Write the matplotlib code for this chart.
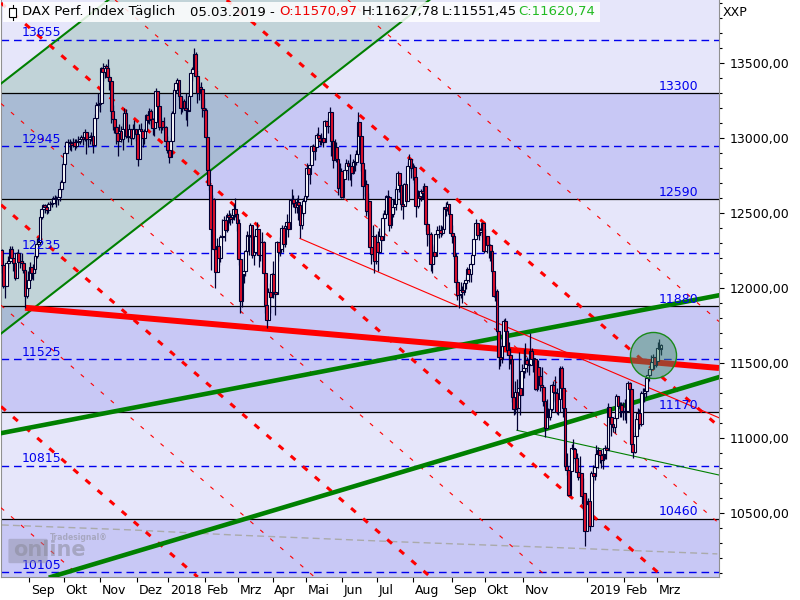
import numpy as np
import pandas as pd
import matplotlib
matplotlib.use('Agg')
import matplotlib.pyplot as plt
import matplotlib.transforms as mtransforms
from matplotlib.patches import Rectangle, FancyBboxPatch

plt.rcParams['font.family'] = ['DejaVu Sans']
plt.rcParams['lines.scale_dashes'] = False

# ---------------- data ----------------
holidays = ['2017-12-25', '2017-12-26', '2018-01-01', '2018-03-30', '2018-04-02', '2018-05-01',
            '2018-12-24', '2018-12-25', '2018-12-26', '2018-12-31', '2019-01-01',
            '2019-04-19', '2019-04-22']
days = pd.bdate_range('2017-08-09', '2019-04-30', freq='C', holidays=holidays)

first_open = 12250
close = [
    12154, 12015, 12014, 12165, 12177, 12263, 12203, 12165, 12066, 12230, 12174, 12180, 12168, 12123, 11946, 12002, 12056,
    12143, 12102, 12124, 12215, 12296, 12304, 12476, 12525, 12553, 12540, 12519, 12559, 12561, 12569, 12600, 12592, 12595, 12606, 12657, 12704, 12829,
    12902, 12970, 12970, 12968, 12955, 12976, 12949, 12970, 12982, 12992, 13004, 12995, 13043, 12991, 12991, 13004, 13013, 12954, 13133, 13218, 13229, 13230,
    13465, 13440, 13479, 13468, 13406, 13382, 13183, 13127, 13074, 13033, 12977, 13047, 12994, 13059, 13168, 13015, 13008, 13060, 13000, 13060, 13061, 13024,
    12861, 13058, 13048, 12999, 13045, 13154, 13123, 13183, 13126, 13069, 13104, 13312, 13215, 13070, 13110, 13073, 13070, 12980, 12918,
    12871, 12978, 13167, 13319, 13367, 13385, 13281, 13202, 13245, 13201, 13184, 13183, 13281, 13434, 13463, 13560, 13415, 13298, 13340, 13324, 13197, 13189,
    13004, 12785, 12687, 12392, 12590, 12260, 12107, 12282, 12197, 12339, 12346, 12452, 12385, 12488, 12470, 12461, 12484, 12528, 12490, 12436,
    12190, 11913, 12090, 12114, 12245, 12355, 12346, 12418, 12222, 12238, 12345, 12390, 12218, 12307, 12309, 12100, 11887, 11787, 11970, 11941, 12096,
    11970, 11957, 12305, 12241, 12261, 12397, 12294, 12415, 12442, 12392, 12585, 12590, 12567, 12540, 12572, 12550, 12422, 12500, 12580, 12612,
    12802, 12763, 12820, 12948, 12912, 12943, 13022, 13001, 12978, 13001, 12970, 13114, 13078, 13078, 13170, 12977, 12855, 12938, 12863, 12666, 12783, 12605,
    12724, 12787, 12830, 12812, 12811, 12767, 12842, 12842, 12891, 13107, 13011, 12835, 12678, 12695, 12512, 12580, 12270, 12228, 12349, 12178, 12306,
    12238, 12349, 12318, 12465, 12496, 12610, 12609, 12417, 12492, 12541, 12561, 12661, 12765, 12686, 12561, 12549, 12690, 12579, 12810, 12860, 12798, 12806,
    12737, 12547, 12616, 12598, 12648, 12634, 12677, 12425, 12358, 12358, 12163, 12237, 12211, 12359, 12385, 12385, 12366, 12394, 12538, 12528, 12562, 12494, 12364,
    12346, 12210, 12040, 11955, 11960, 11987, 11970, 12032, 12055, 12124, 12096, 12157, 12219, 12326, 12431, 12351, 12374, 12385, 12435, 12247,
    12346, 12288, 12287, 12245, 12111, 11947, 11977, 11712, 11539, 11524, 11614, 11777, 11716, 11589, 11554, 11524, 11275, 11191, 11307, 11201, 11336, 11287, 11448,
    11469, 11519, 11495, 11485, 11579, 11528, 11529, 11325, 11472, 11413, 11353, 11341, 11244, 11066, 11139, 11138, 11192, 11354, 11309, 11298, 11170, 11257,
    11465, 11335, 11200, 10811, 10788, 10622, 10780, 10931, 10924, 10866, 10772, 10741, 10767, 10611, 10634, 10382, 10559,
    10580, 10416, 10768, 10747, 10804, 10893, 10921, 10888, 10856, 10891, 10931, 10919, 11205, 11137, 11090, 11072, 11130, 11282, 11210, 11219, 11181, 11173,
    11180, 11177, 11368, 11325, 10963, 10907, 11014, 11127, 11167, 11090, 11300, 11299, 11310, 11401, 11423, 11458, 11505, 11540, 11487, 11516,
    11602, 11593, 11621,
]
high = [
    12260, 12120, 12050, 12175, 12210, 12280, 12280, 12200, 12150, 12240, 12260, 12220, 12230, 12180, 12090, 12040, 12110,
    12170, 12140, 12160, 12240, 12330, 12340, 12480, 12530, 12560, 12560, 12540, 12570, 12580, 12590, 12610, 12620, 12610, 12620, 12680, 12720, 12840,
    12910, 12980, 12995, 12990, 12980, 13000, 12990, 12990, 13010, 13005, 13020, 13010, 13060, 13040, 13010, 13020, 13040, 13020, 13160, 13240, 13300, 13250,
    13470, 13500, 13480, 13490, 13526, 13420, 13370, 13220, 13130, 13080, 13010, 13090, 13080, 13100, 13200, 13190, 13060, 13090, 13060, 13090, 13120, 13060,
    13020, 13090, 13100, 13030, 13060, 13160, 13170, 13200, 13190, 13130, 13120, 13330, 13280, 13180, 13130, 13110, 13140, 13080, 13010,
    12950, 13000, 13180, 13330, 13380, 13400, 13340, 13270, 13270, 13260, 13300, 13200, 13320, 13440, 13470, 13597, 13570, 13440, 13360, 13370, 13290, 13260,
    13200, 13000, 12800, 12600, 12620, 12600, 12200, 12330, 12290, 12350, 12460, 12480, 12430, 12500, 12520, 12500, 12500, 12560, 12600, 12500,
    12460, 12150, 12100, 12200, 12250, 12380, 12360, 12430, 12400, 12290, 12360, 12440, 12330, 12330, 12370, 12310, 12000, 12000, 12000, 12030, 12100,
    12180, 12010, 12310, 12300, 12340, 12420, 12370, 12420, 12490, 12430, 12590, 12660, 12620, 12580, 12600, 12620, 12470, 12520, 12600, 12620,
    12830, 12820, 12830, 12950, 12960, 12960, 13030, 13070, 13020, 13030, 13020, 13120, 13110, 13130, 13205, 13100, 12960, 12990, 12970, 12800, 12830, 12800,
    12760, 12820, 12860, 12850, 12890, 12780, 12860, 12880, 12920, 13170, 13070, 12890, 12790, 12790, 12720, 12630, 12480, 12330, 12420, 12330, 12360,
    12380, 12400, 12350, 12500, 12520, 12620, 12650, 12540, 12520, 12590, 12590, 12680, 12780, 12730, 12680, 12580, 12700, 12720, 12840, 12890, 12850, 12830,
    12820, 12720, 12650, 12640, 12660, 12680, 12700, 12600, 12440, 12400, 12370, 12290, 12280, 12360, 12410, 12420, 12420, 12410, 12540, 12570, 12580, 12560, 12490,
    12420, 12360, 12230, 12060, 12000, 12040, 12010, 12040, 12070, 12140, 12120, 12170, 12240, 12330, 12460, 12420, 12400, 12400, 12440, 12350,
    12390, 12340, 12340, 12290, 12250, 12040, 12010, 11990, 11660, 11640, 11670, 11790, 11800, 11650, 11640, 11600, 11500, 11300, 11380, 11390, 11570, 11330, 11490,
    11590, 11630, 11540, 11520, 11700, 11600, 11560, 11490, 11510, 11520, 11470, 11470, 11350, 11220, 11260, 11200, 11230, 11360, 11380, 11410, 11330, 11270,
    11480, 11480, 11260, 11030, 10900, 10760, 10840, 10960, 10990, 10890, 10900, 10800, 10880, 10670, 10730, 10390, 10620,
    10600, 10520, 10780, 10820, 10850, 10950, 10940, 10920, 10880, 10900, 10950, 10940, 11230, 11200, 11130, 11120, 11150, 11290, 11250, 11240, 11240, 11240,
    11260, 11210, 11380, 11370, 11270, 10990, 11040, 11150, 11200, 11190, 11310, 11330, 11330, 11420, 11450, 11460, 11550, 11560, 11520, 11540,
    11640, 11660, 11628,
]
low = [
    12100, 12000, 11930, 12060, 12130, 12200, 12180, 12110, 12050, 12080, 12160, 12130, 12150, 12100, 11868, 11930, 11980,
    12080, 12060, 12050, 12100, 12200, 12240, 12390, 12460, 12500, 12500, 12490, 12500, 12520, 12540, 12560, 12560, 12540, 12550, 12580, 12640, 12700,
    12840, 12890, 12940, 12920, 12910, 12940, 12920, 12930, 12950, 12960, 12970, 12950, 12980, 12890, 12940, 12960, 12980, 12900, 12960, 13120, 13180, 13170,
    13250, 13380, 13400, 13440, 13380, 13320, 13100, 13050, 13030, 12960, 12880, 12990, 12970, 12920, 13090, 13000, 12970, 13010, 12950, 12990, 13010, 12980,
    12810, 12950, 13010, 12940, 12960, 13050, 13100, 13090, 13080, 13020, 13010, 13130, 13190, 13050, 13030, 13050, 13050, 12950, 12900,
    12830, 12880, 13000, 13180, 13300, 13320, 13250, 13160, 13170, 13190, 13120, 13080, 13190, 13290, 13380, 13450, 13400, 13230, 13250, 13280, 13140, 13130,
    12990, 12760, 12650, 12120, 12420, 12250, 12000, 12150, 12150, 12170, 12310, 12400, 12310, 12370, 12430, 12420, 12430, 12450, 12470, 12380,
    12150, 11830, 11870, 12030, 12080, 12230, 12220, 12340, 12200, 12150, 12220, 12320, 12140, 12180, 12260, 12090, 11830, 11730, 11800, 11830, 11960,
    11930, 11820, 12080, 12180, 12210, 12260, 12240, 12270, 12390, 12340, 12430, 12560, 12540, 12500, 12500, 12450, 12330, 12390, 12480, 12560,
    12600, 12720, 12690, 12830, 12850, 12850, 12940, 12970, 12950, 12950, 12940, 13000, 13030, 13030, 13080, 12880, 12800, 12860, 12840, 12620, 12620, 12600,
    12600, 12740, 12760, 12720, 12720, 12680, 12760, 12780, 12820, 12860, 12920, 12780, 12590, 12610, 12480, 12490, 12260, 12160, 12200, 12100, 12160,
    12110, 12240, 12250, 12320, 12340, 12530, 12580, 12380, 12400, 12470, 12500, 12520, 12700, 12640, 12520, 12460, 12580, 12560, 12650, 12780, 12730, 12720,
    12700, 12470, 12530, 12550, 12580, 12590, 12600, 12380, 12280, 12290, 12110, 12100, 12160, 12220, 12340, 12330, 12340, 12350, 12430, 12480, 12510, 12480, 12350,
    12300, 12190, 12000, 11920, 11865, 11930, 11900, 11950, 11990, 12070, 12040, 12040, 12150, 12240, 12360, 12340, 12320, 12350, 12340, 12230,
    12250, 12230, 12200, 12180, 12100, 11940, 11910, 11700, 11460, 11480, 11500, 11630, 11690, 11550, 11460, 11490, 11240, 11150, 11160, 11051, 11210, 11150, 11350,
    11400, 11430, 11440, 11420, 11520, 11510, 11440, 11320, 11310, 11360, 11310, 11300, 11210, 11009, 11070, 11120, 11120, 11180, 11250, 11240, 11160, 11150,
    11320, 11320, 11140, 10790, 10750, 10610, 10650, 10820, 10860, 10830, 10770, 10720, 10730, 10560, 10520, 10279, 10400,
    10390, 10380, 10510, 10700, 10720, 10810, 10800, 10830, 10800, 10790, 10860, 10860, 10920, 11110, 11010, 11040, 11030, 11120, 11180, 11140, 11140, 11120,
    11120, 11100, 11190, 11290, 10950, 10864, 10900, 11020, 11110, 11060, 11080, 11250, 11240, 11270, 11370, 11380, 11450, 11490, 11460, 11470,
    11530, 11560, 11551,
]

title_parts = ['DAX Perf. Index Täglich', '05.03.2019 -', 'O:11570,97', 'H:11627,78', 'L:11551,45', 'C:11620,74']
title_colors = ['black', 'black', '#ee0000', 'black', 'black', '#22bb22']

solid_levels = [13300, 12590, 11880, 11170, 10460]
dashed_levels = [13655, 12945, 12235, 11525, 10815, 10105]
y_ticks = [10500, 11000, 11500, 12000, 12500, 13000, 13500]

month_starts = ['2017-09', '2017-10', '2017-11', '2017-12', '2018-01', '2018-02', '2018-03', '2018-04',
                '2018-05', '2018-06', '2018-07', '2018-08', '2018-09', '2018-10', '2018-11', '2019-01',
                '2019-02', '2019-03']
month_labels = ['Sep', 'Okt', 'Nov', 'Dez', '2018', 'Feb', 'Mrz', 'Apr', 'Mai', 'Jun', 'Jul', 'Aug',
                'Sep', 'Okt', 'Nov', '2019', 'Feb', 'Mrz']

# parallel down-sloping lines: price at first bar, slope in points per bar
fan_slope = -9.57
fan_thick = [11205, 12550, 13895, 15220]
fan_thin = [10530, 11880, 13225, 14575, 15920]

channel_slope = 8.6
channel_upper = 13367
channel_lower = 11700

green_upper = [('2017-08-09', 11033), ('2019-03-05', 11877)]
green_lower = [('2017-08-09', 9975), ('2019-03-05', 11290)]
green_thin = [('2018-10-26', 11051), ('2019-02-08', 10880)]
red_thick = [('2017-08-29', 11868), ('2019-03-05', 11500)]
red_thin = [('2018-04-25', 12330), ('2019-03-05', 11300)]
grey_dates = ['2017-08-09', '2017-11-27', '2018-02-26', '2018-07-20', '2018-12-06', '2019-04-24']
grey_vals = [10420, 10387, 10353, 10307, 10267, 10227]

circle_date, circle_price = '2019-02-26', 11555


def pos(d):
    return int(days.searchsorted(pd.Timestamp(d)))


n = min(len(close), len(high), len(low))
c = np.array(close[:n], float)
o = np.array([first_open] + close[:n - 1], float)
h = np.maximum.reduce([np.array(high[:n], float), o, c])
l = np.minimum.reduce([np.array(low[:n], float), o, c])
x = np.arange(n)

light, dark = '#e6e6fa', '#c8c8f5'
xlim = (-0.5, 433.0)
ylim = (10073, 13920)

fig = plt.figure(figsize=(8, 6), dpi=100)
ax = fig.add_axes([1 / 800, 23 / 600, 718 / 800, 577 / 600])
ax.set_xlim(*xlim)
ax.set_ylim(*ylim)

# background bands
edges = [ylim[0]] + sorted(solid_levels) + [ylim[1]]
for i in range(len(edges) - 1):
    ax.axhspan(edges[i], edges[i + 1], color=dark if i % 2 == 0 else light, lw=0, zorder=0)

for v in solid_levels:
    ax.axhline(v, color='black', lw=0.9, zorder=2)
for v in dashed_levels:
    ax.axhline(v, color='#0000ee', lw=1.0, dashes=(5.5, 3.5), zorder=2)

# channel
xs = np.array(xlim)
ch_lo = channel_lower + channel_slope * xs
ch_hi = channel_upper + channel_slope * xs
ax.fill_between(xs, ch_lo, ch_hi, color='#2e8b50', alpha=0.2, lw=0, zorder=1)
ax.plot(xs, ch_lo, color='#008000', lw=1.5, zorder=3)
ax.plot(xs, ch_hi, color='#008000', lw=1.5, zorder=3)

ax.plot([pos(d) for d in grey_dates], grey_vals, color='#aaaaaa', lw=1.0, dashes=(5, 3), zorder=2)

for p in fan_thick:
    ax.axline((0, p), slope=fan_slope, color='#ff0000', lw=2.2, dashes=(4.5, 7), zorder=3)
for p in fan_thin:
    ax.axline((0, p), slope=fan_slope, color='#ff0000', lw=0.8, dashes=(3, 6.5), zorder=3)

for a, b in (green_upper, green_lower):
    ax.axline((pos(a[0]), a[1]), (pos(b[0]), b[1]), color='#008000', lw=3.3, zorder=3)


def ray(a, b):
    x1, x2 = pos(a[0]), pos(b[0])
    k = (b[1] - a[1]) / (x2 - x1)
    return [x1, xlim[1]], [a[1], a[1] + k * (xlim[1] - x1)]


ax.plot(*ray(*red_thick), color='#ff0000', lw=4.3, solid_capstyle='butt', zorder=3)
ax.plot(*ray(*red_thin), color='#ff0000', lw=0.8, zorder=3)
ax.plot(*ray(*green_thin), color='#008000', lw=0.8, zorder=3)

# candles
up = c >= o
edge = '#000033'
ax.vlines(x, l, h, colors=edge, lw=0.9, zorder=5)
body = np.maximum(np.abs(c - o), 2)
ax.bar(x[up], body[up], bottom=o[up], width=1.7, color='white', edgecolor=edge, lw=0.8, zorder=6)
ax.bar(x[~up], body[~up], bottom=c[~up], width=1.7, color='#e0102a', edgecolor=edge, lw=0.8, zorder=6)

ax.scatter([pos(circle_date)], [circle_price], s=1100, facecolor=(0.24, 0.55, 0.39, 0.45),
           edgecolor='#1a8a1a', lw=1.0, zorder=8)

# level labels
for v in dashed_levels:
    ax.annotate(str(v), xy=(0.029, v), xycoords=('axes fraction', 'data'), xytext=(0, 2.5),
                textcoords='offset points', ha='left', va='baseline', color='#0000ee', fontsize=9, zorder=9)
for v in solid_levels:
    ax.annotate(str(v), xy=(0.971, v), xycoords=('axes fraction', 'data'), xytext=(0, 2.5),
                textcoords='offset points', ha='right', va='baseline', color='#0000ee', fontsize=9, zorder=9)

# axes
for s in ('left', 'bottom', 'right'):
    ax.spines[s].set_color('#909090')
ax.spines['top'].set_visible(False)
ax.yaxis.tick_right()
ax.set_yticks(y_ticks)
ax.set_yticklabels([f'{v},00' for v in y_ticks], fontsize=9)
ax.set_yticks(np.arange(10100, 13901, 100), minor=True)
ax.tick_params(axis='y', which='major', length=3.5, pad=4, width=0.8)
ax.tick_params(axis='y', which='minor', length=2, width=0.8)

mpos = [pos(m + '-01') - 0.5 for m in month_starts]
ax.set_xticks(mpos)
ax.set_xticklabels([])
ax.tick_params(axis='x', length=3.5, width=0.8)
tr = mtransforms.blended_transform_factory(ax.transData, ax.transAxes)
for p, lab in zip(mpos, month_labels):
    ax.text(p + 1.0, -0.024, lab, transform=tr, ha='left', va='center', fontsize=9, clip_on=False)

fig.text(723 / 800, 1 - 13 / 600, 'XXP', fontsize=9, ha='left', va='center')

# header box
fig.patches.append(Rectangle((3 / 800, 1 - 22 / 600), 597 / 800, 20 / 600, transform=fig.transFigure,
                             facecolor='white', edgecolor='none', alpha=0.85, zorder=10))
fig.patches.append(Rectangle((9 / 800, 1 - 17 / 600), 7 / 800, 9 / 600, transform=fig.transFigure,
                             facecolor='white', edgecolor='black', lw=0.8, zorder=11))
fig.lines.append(plt.Line2D([12.5 / 800, 12.5 / 800], [1 - 20 / 600, 1 - 5 / 600], transform=fig.transFigure,
                            color='black', lw=0.8, zorder=11))
title_x = [22, 190, 279, 362, 442, 518]
for tx, txt, col in zip(title_x, title_parts, title_colors):
    fig.text(tx / 800, 1 - 12 / 600, txt, color=col, fontsize=9.5, ha='left', va='center', zorder=12)

# watermark (faint logo behind the lowest level label)
fig.patches.append(FancyBboxPatch((10 / 800, 1 - 562 / 600), 36 / 800, 22 / 600,
                                  boxstyle='round,pad=0.002', transform=fig.transFigure,
                                  facecolor='#8a8aa0', edgecolor='none', alpha=0.45, zorder=9))
fig.text(13 / 800, 1 - 550 / 600, 'online', fontsize=15, fontweight='bold', color='#8a8a9a',
         alpha=0.55, ha='left', va='center', zorder=9)
fig.text(50 / 800, 1 - 537 / 600, 'Tradesignal®', fontsize=5.5, fontweight='bold', color='#9a9aaa',
         alpha=0.7, ha='left', va='center', zorder=9)

fig.savefig('out.png', dpi=100)
